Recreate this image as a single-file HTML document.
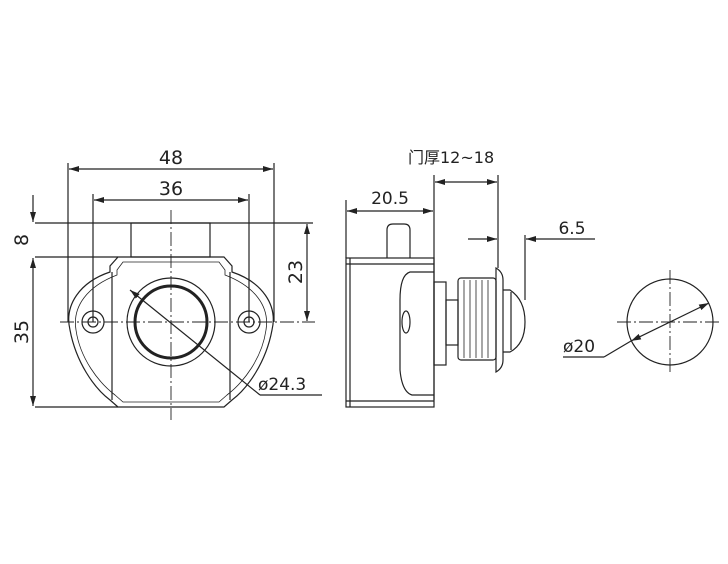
<!DOCTYPE html><html><head><style>body{margin:0;background:#fff}svg{display:block}text{font-family:"DejaVu Sans","Noto Sans CJK SC",sans-serif;fill:#222}</style></head><body>
<svg width="728" height="564" viewBox="0 0 728 564" xmlns="http://www.w3.org/2000/svg" stroke="#222" fill="none" stroke-width="1.2">
<defs><marker id="a" viewBox="0 0 10 6" refX="10" refY="3" markerWidth="10" markerHeight="6" orient="auto-start-reverse" markerUnits="userSpaceOnUse"><path d="M0,0L10,3L0,6z" fill="#222" stroke="none"/></marker></defs>
<!-- left view dims -->
<line x1="68" y1="163" x2="68" y2="322"/><line x1="274" y1="163" x2="274" y2="322"/>
<line x1="69" y1="169" x2="273" y2="169" marker-start="url(#a)" marker-end="url(#a)"/>
<line x1="93" y1="194" x2="93" y2="322"/><line x1="249" y1="194" x2="249" y2="322"/>
<line x1="94" y1="200" x2="248" y2="200" marker-start="url(#a)" marker-end="url(#a)"/>
<text x="171" y="164" font-size="19" text-anchor="middle" stroke="none">48</text>
<text x="171" y="195" font-size="19" text-anchor="middle" stroke="none">36</text>
<line x1="35" y1="223" x2="313" y2="223"/><line x1="35" y1="257" x2="118" y2="257"/><line x1="35" y1="407" x2="118" y2="407"/>
<line x1="33" y1="195" x2="33" y2="222" marker-end="url(#a)"/>
<line x1="33" y1="258" x2="33" y2="406" marker-start="url(#a)" marker-end="url(#a)"/>
<line x1="307" y1="224" x2="307" y2="321" marker-start="url(#a)" marker-end="url(#a)"/>
<text transform="translate(28,240) rotate(-90)" font-size="19" text-anchor="middle" stroke="none">8</text>
<text transform="translate(28,332) rotate(-90)" font-size="19" text-anchor="middle" stroke="none">35</text>
<text transform="translate(302,272) rotate(-90)" font-size="19" text-anchor="middle" stroke="none">23</text>
<g stroke-dasharray="14,3,2,3" stroke-width="0.9"><line x1="60" y1="322" x2="315" y2="322"/><line x1="171" y1="210" x2="171" y2="420"/></g>
<rect x="131" y="223" width="79" height="34"/>
<path d="M118,257H224L232,266V272C262,282 278,305 272,330C266,362 248,388 232,400L224,407H118L110,400C94,388 76,362 70,330C64,305 80,282 110,272V266Z"/>
<path d="M123,262H219L225,270V275C254,286 270,306 266,330C262,358 244,382 227,395L219,402H123L115,395C98,382 80,358 76,330C72,306 88,286 117,275V270Z" stroke-width="0.8"/>
<line x1="112" y1="272" x2="112" y2="400"/><line x1="230" y1="272" x2="230" y2="400"/>
<circle cx="93" cy="322" r="11"/><circle cx="93" cy="322" r="5"/><circle cx="249" cy="322" r="11"/><circle cx="249" cy="322" r="5"/>
<circle cx="171" cy="322" r="44"/><circle cx="171" cy="322" r="36" stroke-width="3"/>
<line x1="130" y1="290" x2="260" y2="395" marker-start="url(#a)"/><line x1="260" y1="395" x2="322" y2="395"/>
<text x="258" y="390" font-size="17" stroke="none">ø24.3</text>
<!-- side view -->
<text x="408" y="163" font-size="16" stroke="none">门厚12~18</text>
<line x1="434" y1="175" x2="434" y2="400"/><line x1="498" y1="175" x2="498" y2="268"/>
<line x1="435" y1="182" x2="497" y2="182" marker-start="url(#a)" marker-end="url(#a)"/>
<line x1="346" y1="200" x2="346" y2="258"/>
<line x1="347" y1="211" x2="433" y2="211" marker-start="url(#a)" marker-end="url(#a)"/>
<text x="390" y="204" font-size="17" text-anchor="middle" stroke="none">20.5</text>
<line x1="468" y1="239" x2="497" y2="239" marker-end="url(#a)"/>
<line x1="526" y1="239" x2="595" y2="239" marker-start="url(#a)"/>
<line x1="525" y1="235" x2="525" y2="300"/>
<text x="572" y="234" font-size="17" text-anchor="middle" stroke="none">6.5</text>
<path d="M387,258V230Q387,224 393,224H404Q410,224 410,230V258"/>
<rect x="346" y="258" width="88" height="149"/><line x1="350" y1="258" x2="350" y2="407"/><line x1="346" y1="264" x2="434" y2="264"/><line x1="346" y1="401" x2="434" y2="401"/>
<path d="M434,272H410Q400,275 400,300V370Q402,392 412,395H434"/>
<ellipse cx="406" cy="322" rx="4" ry="11"/>
<rect x="434" y="282" width="12" height="83"/><rect x="446" y="300" width="12" height="45"/>
<rect x="458" y="278" width="38" height="82" rx="3"/>
<g stroke-width="0.8"><line x1="464" y1="280" x2="464" y2="358"/><line x1="470" y1="280" x2="470" y2="358"/><line x1="476" y1="280" x2="476" y2="358"/><line x1="482" y1="280" x2="482" y2="358"/><line x1="488" y1="280" x2="488" y2="358"/></g>
<path d="M496,268Q503,272 503,280V360Q503,368 496,372Z"/>
<path d="M503,290H510Q525,300 525,322Q525,344 510,352H503"/><line x1="511" y1="292" x2="511" y2="350"/>
<!-- circle view -->
<circle cx="670" cy="322" r="43"/>
<g stroke-dasharray="14,3,2,3" stroke-width="0.9"><line x1="617" y1="322" x2="722" y2="322"/><line x1="670" y1="270" x2="670" y2="375"/></g>
<line x1="631" y1="341" x2="709" y2="303" marker-start="url(#a)" marker-end="url(#a)"/>
<line x1="604" y1="357" x2="631" y2="341"/><line x1="563" y1="357" x2="604" y2="357"/>
<text x="563" y="352" font-size="17" stroke="none">ø20</text>
</svg></body></html>
